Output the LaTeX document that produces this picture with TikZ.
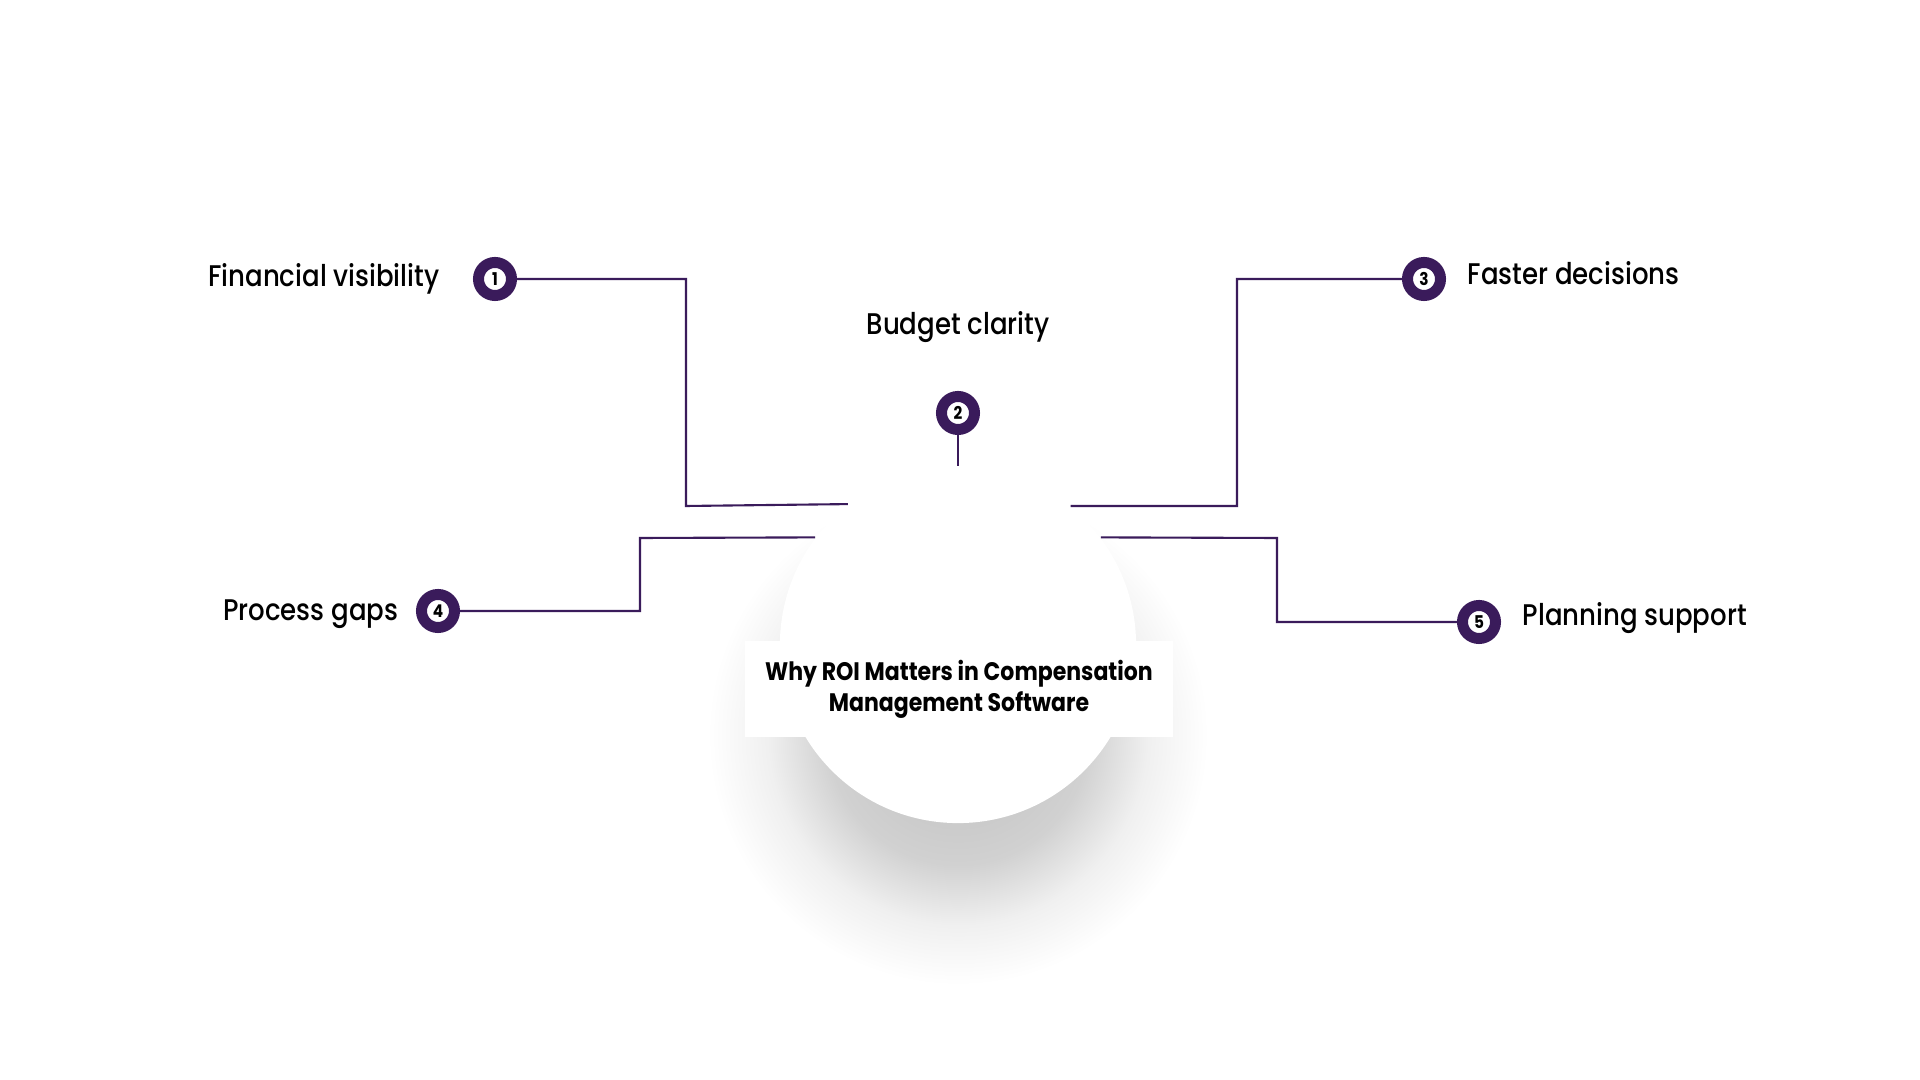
\documentclass[tikz,border=0pt]{standalone}
\usepackage{fontspec}
\setmainfont[FakeStretch=0.87]{Poppins}
\newfontfamily\medfont[FakeStretch=0.87]{Poppins Medium}
\usetikzlibrary{positioning}
\definecolor{plum}{RGB}{58,27,91}
\pgfdeclareradialshading{hubshade}{\pgfpoint{0bp}{0bp}}{color(0bp)=(black!26); color(13bp)=(black!18); color(19bp)=(black!6); color(25bp)=(white); color(50bp)=(white)}
\tikzset{
    numdot/.style={circle, draw=plum, line width=0.11cm, fill=white, minimum size=0.33cm, inner sep=0pt, font=\bfseries\fontsize{5}{6}\selectfont},
    itemtext/.style={inner sep=0pt, font=\medfont\fontsize{8.5}{10}\selectfont},
    wire/.style={draw=plum, line width=0.6pt},
    hubnode/.style={circle, fill=white, minimum size=3.56cm, inner sep=0pt},
    headline/.style={fill=white, align=center, minimum width=4.27cm, minimum height=0.95cm, inner sep=0pt, font=\bfseries\fontsize{7.2}{8.8}\selectfont}
}

\begin{document}
\begin{tikzpicture}[x=0.01cm, y=-0.01cm]
                    \useasboundingbox (0,0) rectangle (1920,1080);
                    \shade[shading=hubshade] (958,735) circle (2.5cm);
                    \node[hubnode] (hub) at (958,645) {};
                    \node[headline] (title) at (959,689) {Why ROI Matters in Compensation\\Management Software};
                    \foreach \n/\Point in {1/{(495,279)}, 2/{(958,413)}, 3/{(1424,279)}, 4/{(438,611)}, 5/{(1479,622)}}
                        \node[numdot] (c\n) at \Point {\n};
                    \coordinate (k1) at (686,506);
                    \coordinate (k3) at (1237,506);
                    \coordinate (k4) at (640,538);
                    \coordinate (k5) at (1277,538);
                    \draw[wire] (c1) -| (k1) -- (hub.128.6);
                    \draw[wire] (c2) -- (hub);
                    \draw[wire] (c3) -| (k3) -- (hub.51.4);
                    \draw[wire] (c4) -| (k4) -- (hub.143);
                    \draw[wire] (c5) -| (k5) -- (hub.37);
                    \node[itemtext, left=0.33cm of c1] (t1) {Financial visibility};
                    \node[itemtext, above=0.48cm of c2] (t2) {Budget clarity};
                    \node[itemtext, right=0.21cm of c3, yshift=0.06cm] (t3) {Faster decisions};
                    \node[itemtext, left=0.17cm of c4, yshift=-0.03cm] (t4) {Process gaps};
                    \node[itemtext, right=0.21cm of c5, yshift=0.04cm] (t5) {Planning support};
                \end{tikzpicture}
\end{document}
